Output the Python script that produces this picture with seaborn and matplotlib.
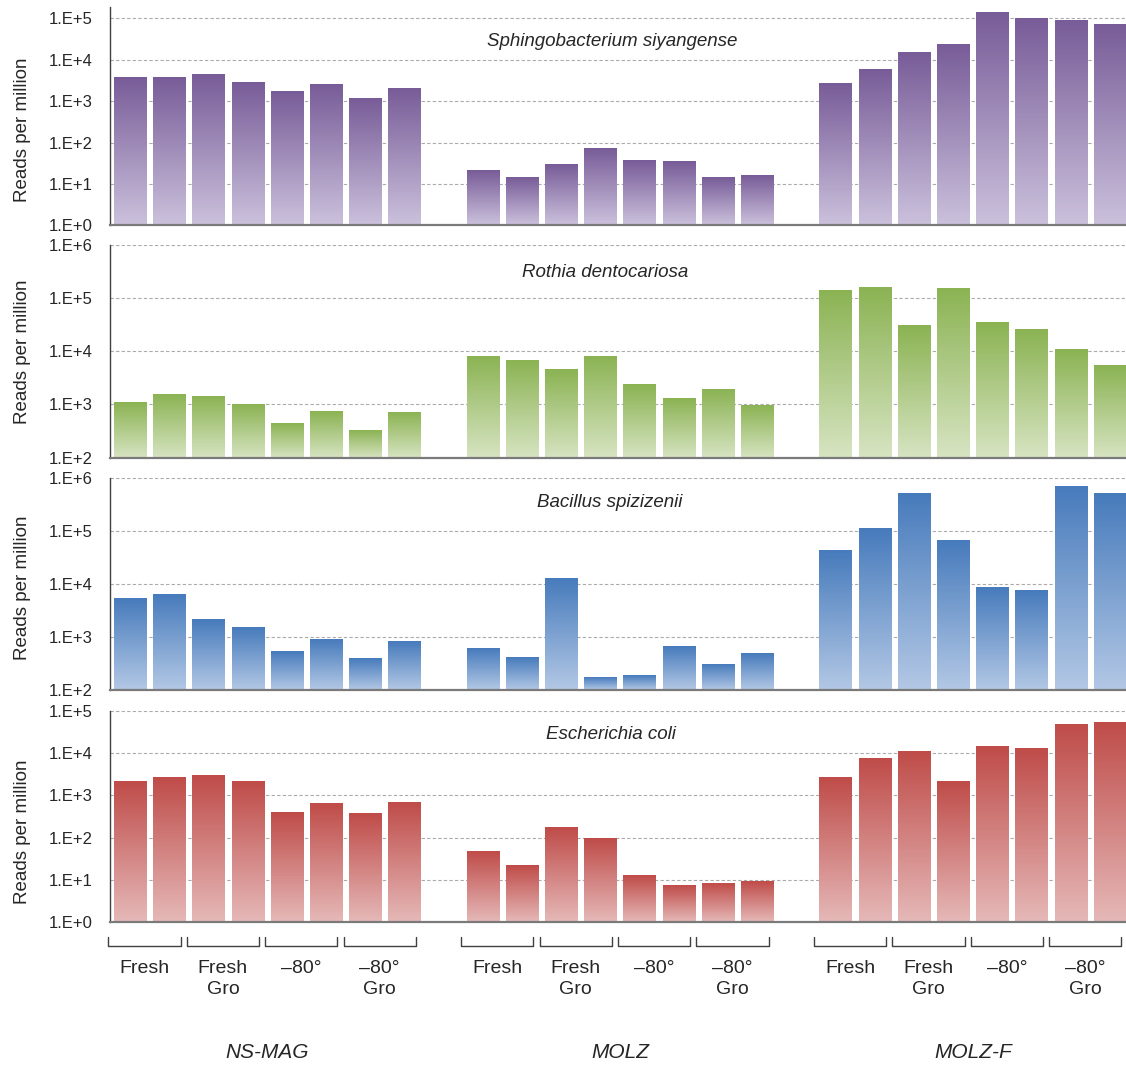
import numpy as np
import pandas as pd
import seaborn as sns
import matplotlib.pyplot as plt
from matplotlib.colors import LinearSegmentedColormap
from matplotlib.image import AxesImage
from matplotlib.transforms import blended_transform_factory

# data (reads per million)
groups = ["NS-MAG", "MOLZ", "MOLZ-F"]
conditions = ["Fresh", "Fresh\nGro", "\u201380\u00b0", "\u201380\u00b0\nGro"]
species = ["Sphingobacterium siyangense", "Rothia dentocariosa",
           "Bacillus spizizenii", "Escherichia coli"]

sphingo = [3600, 3600, 4200, 2740, 1700, 2450, 1125, 2000,
           21, 13.7, 29.7, 72, 37, 35, 14.4, 16.1,
           2640, 5550, 14800, 23200, 134000, 94600, 84700, 67800]
rothia = [1090, 1545, 1435, 1000, 450, 748, 337, 716,
          8150, 6850, 4640, 8150, 2415, 1315, 1945, 970,
          143000, 163000, 31300, 156000, 35700, 26300, 11000, 5500]
bacillus = [5440, 6390, 2120, 1540, 541, 890, 399, 826,
            609, 411, 12800, 172, 188, 664, 303, 490,
            43400, 113000, 519000, 67000, 8670, 7600, 703000, 519000]
ecoli = [2090, 2645, 2900, 2175, 401, 631, 372, 666,
         46, 21.5, 171, 93.5, 12.5, 7.2, 8.1, 9.0,
         2600, 7330, 10700, 2090, 14100, 12600, 46800, 52100]
values = [sphingo, rothia, bacillus, ecoli]

ylims = [(1, 1.9e5), (1e2, 1e6), (1e2, 1e6), (1, 1e5)]
top_colors = ["#785c98", "#8bb353", "#477bbc", "#bf4c49"]
bottom_colors = ["#cbc1dc", "#d7e4c2", "#b3c8e5", "#e5b9b8"]

panel_pos = [(0.7886, 0.2051), (0.5708, 0.1991), (0.3531, 0.1988), (0.1349, 0.1981)]
title_y = [0.843, 0.874, 0.885, 0.891]
title_x = [0.494, 0.487, 0.492, 0.493]
ylabel_y = [0.436, 0.5, 0.48, 0.427]
XLIM = (-0.51, 25.41)

sns.set_style("white")
plt.rcParams['font.family'] = ['Liberation Sans', 'DejaVu Sans']
TXT = "#262626"

fig = plt.figure(figsize=(11.26, 10.66), dpi=100)

rows = []
for s, vals in zip(species, values):
    for i, v in enumerate(vals):
        g = i // 8
        rows.append({"species": s, "group": groups[g], "cond": conditions[(i % 8) // 2],
                     "pos": g * 9 + i % 8, "value": v})
df = pd.DataFrame(rows)

axes = []
for k, s in enumerate(species):
    b, h = panel_pos[k]
    ax = fig.add_axes([0.0977, b, 0.9023, h])
    axes.append(ax)
    sub = df[df.species == s]
    sns.barplot(data=sub, x="pos", y="value", native_scale=True, width=0.82,
                errorbar=None, color=top_colors[k], ax=ax, zorder=3)
    ax.set_yscale("log")
    ax.set_xlim(*XLIM)
    ax.set_ylim(*ylims[k])

    # gradient fill for each bar (dark at top, light at the bottom)
    cmap = LinearSegmentedColormap.from_list("g", [bottom_colors[k], top_colors[k]])
    grad = np.linspace(0, 1, 512).reshape(-1, 1)
    lo, hi = np.log10(ylims[k][0]), np.log10(ylims[k][1])
    for p in ax.patches:
        x0, w, hgt = p.get_x(), p.get_width(), p.get_height()
        xa0 = (x0 - XLIM[0]) / (XLIM[1] - XLIM[0])
        xa1 = (x0 + w - XLIM[0]) / (XLIM[1] - XLIM[0])
        fa = (np.log10(hgt) - lo) / (hi - lo)
        im = AxesImage(ax, cmap=cmap, interpolation="nearest", origin="lower",
                       extent=(xa0, xa1, 0, fa), transform=ax.transAxes, zorder=2)
        im.set_data(grad)
        ax.add_image(im)
        p.set_facecolor("none")
        p.set_linewidth(0)
    ax.set_xlim(*XLIM)
    ax.set_ylim(*ylims[k])

    decades = 10.0 ** np.arange(round(lo), np.floor(hi) + 1)
    ax.set_yticks(decades)
    ax.set_yticklabels([f"1.E+{int(round(np.log10(d)))}" for d in decades])
    ax.minorticks_off()
    ax.tick_params(axis="y", length=0, pad=12.5, labelsize=12, labelcolor=TXT)
    ax.set_xticks([])
    ax.set_xlabel("")
    ax.yaxis.grid(True, color="#ababab", linestyle=(0, (3, 2)), linewidth=0.8, zorder=0)
    ax.set_axisbelow(True)
    for side in ["top", "right"]:
        ax.spines[side].set_visible(False)
    ax.spines["left"].set_color("#404040")
    ax.spines["left"].set_linewidth(1.0)
    ax.spines["bottom"].set_color("#7a7a7a")
    ax.spines["bottom"].set_linewidth(1.6)
    ax.spines["bottom"].set_zorder(4)
    ax.set_ylabel("Reads per million", fontsize=13.5, color=TXT)
    ax.yaxis.set_label_coords(-0.0778, ylabel_y[k])
    ax.text(title_x[k], title_y[k], s, transform=ax.transAxes, ha="center", va="center",
            fontsize=13.5, style="italic", color=TXT)

# category brackets and labels under the last panel
ax = axes[-1]
tr = blended_transform_factory(ax.transData, fig.transFigure)
shift = -0.13
for g, name in enumerate(groups):
    for c, cond in enumerate(conditions):
        cx = g * 9 + 2 * c + 0.5 + shift
        ax.plot([cx - 0.92, cx - 0.92, cx + 0.92, cx + 0.92], [0.121, 0.1126, 0.1126, 0.121],
                transform=tr, clip_on=False, color="#404040", lw=1.0)
        lines = cond.split("\n")
        ax.text(cx, 0.0919, lines[0], transform=tr, ha="center", va="center",
                fontsize=14, color=TXT)
        if len(lines) > 1:
            ax.text(cx, 0.0713, lines[1], transform=tr, ha="center", va="center",
                    fontsize=14, color=TXT)
    ax.text(g * 9 + 3.5, 0.0131, name, transform=tr, ha="center", va="center",
            fontsize=15, style="italic", color=TXT)

fig.savefig("out.png", dpi=100)
